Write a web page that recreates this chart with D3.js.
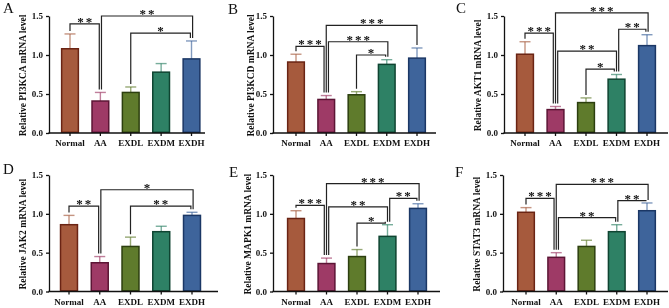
<!DOCTYPE html>
<html><head><meta charset="UTF-8"><style>
body { margin: 0; background: #fff; }
svg { display: block; will-change: transform; }
.axis .domain, .axis line { stroke: #111; stroke-width: 1.3; }
.axis text { font-family: "Liberation Serif", serif; font-weight: bold; font-size: 9px; fill: #111; }
</style>
</head>
<body>
<svg width="669" height="308"></svg>
<script src="https://cdn.jsdelivr.net/npm/d3@7"></script>
<script>

var groups = ["Normal", "AA", "EXDL", "EXDM", "EXDH"];
var genes = ["PI3KCA", "PI3KCD", "AKT1", "JAK2", "MAPK1", "STAT3"];
var letters = ["A", "B", "C", "D", "E", "F"];
var yTicks = [0, 0.5, 1.0, 1.5];

var fillColors = ["#a65a3d", "#9e3a66", "#5f7b2c", "#2e8165", "#3e649b"];
var lineColors = ["#6a2414", "#5c1535", "#2c3f0f", "#0f4431", "#1b3765"];

// mean and upper error (mean + sd) per gene
var meanPI3KCA = [1.08, 0.41, 0.52, 0.78, 0.95];
var errPI3KCA  = [1.27, 0.52, 0.59, 0.89, 1.18];
var meanPI3KCD = [0.91, 0.43, 0.49, 0.88, 0.96];
var errPI3KCD  = [1.01, 0.48, 0.53, 0.94, 1.09];
var meanAKT1   = [1.01, 0.30, 0.39, 0.69, 1.12];
var errAKT1    = [1.17, 0.34, 0.45, 0.75, 1.26];
var meanJAK2   = [0.86, 0.37, 0.58, 0.77, 0.98];
var errJAK2    = [0.98, 0.45, 0.70, 0.84, 1.02];
var meanMAPK1  = [0.94, 0.36, 0.45, 0.71, 1.07];
var errMAPK1   = [1.04, 0.43, 0.54, 0.86, 1.13];
var meanSTAT3  = [1.02, 0.44, 0.58, 0.77, 1.04];
var errSTAT3   = [1.08, 0.50, 0.66, 0.86, 1.14];

// significance brackets: [from, to, level, label]
var sigPI3KCA = [[0, 1, 1.40, "**"], [1, 4, 1.50, "**"], [2, 4, 1.28, "*"]];
var sigPI3KCD = [[0, 1, 1.11, "***"], [1, 4, 1.38, "***"], [1, 3, 1.17, "***"], [2, 3, 1.00, "*"]];
var sigAKT1   = [[0, 1, 1.28, "***"], [1, 4, 1.54, "***"], [3, 4, 1.33, "**"], [1, 3, 1.05, "**"], [2, 3, 0.82, "*"]];
var sigJAK2   = [[0, 1, 1.10, "**"], [1, 4, 1.31, "*"], [2, 4, 1.10, "**"]];
var sigMAPK1  = [[0, 1, 1.11, "***"], [1, 4, 1.39, "***"], [3, 4, 1.20, "**"], [1, 3, 1.09, "**"], [2, 3, 0.88, "*"]];
var sigSTAT3  = [[0, 1, 1.20, "***"], [1, 4, 1.38, "***"], [3, 4, 1.17, "**"], [1, 3, 0.95, "**"]];

var means = [meanPI3KCA, meanPI3KCD, meanAKT1, meanJAK2, meanMAPK1, meanSTAT3];
var errs  = [errPI3KCA, errPI3KCD, errAKT1, errJAK2, errMAPK1, errSTAT3];
var sigs  = [sigPI3KCA, sigPI3KCD, sigAKT1, sigJAK2, sigMAPK1, sigSTAT3];

// panel placement
var layout = [
  {x0: 49,  x1: 205, c0: 70,  c4: 191.5, yT: 16,  yB: 133,   lx: 3,   ly: 13,  tx: 23},
  {x0: 273, x1: 436, c0: 296, c4: 417,   yT: 16,  yB: 133,   lx: 228, ly: 14,  tx: 251},
  {x0: 504, x1: 668, c0: 525, c4: 647,   yT: 16,  yB: 133,   lx: 456, ly: 13,  tx: 478},
  {x0: 49,  x1: 218, c0: 69,  c4: 192,   yT: 175, yB: 291.5, lx: 3,   ly: 174, tx: 23},
  {x0: 273, x1: 440, c0: 296, c4: 418,   yT: 175, yB: 291.5, lx: 229, ly: 177, tx: 248},
  {x0: 503, x1: 668, c0: 526, c4: 647,   yT: 175, yB: 291.5, lx: 455, ly: 177, tx: 477}
];

var svg = d3.select("svg");

layout.forEach(function(L, p) {
  var g = svg.append("g");
  var step = (L.c4 - L.c0) / 4;
  var x = d3.scaleBand().domain(groups)
      .range([L.c0 - step / 2, L.c4 + step / 2])
      .paddingInner(0.4).paddingOuter(0.2);
  var y = d3.scaleLinear().domain([0, 1.5]).range([L.yB, L.yT]);
  var cx = function(i) { return x(groups[i]) + x.bandwidth() / 2; };
  var m = means[p], e = errs[p];

  // error bars (upper only)
  groups.forEach(function(name, i) {
    var eg = g.append("g").attr("stroke", fillColors[i]).attr("stroke-opacity", 0.65)
        .attr("stroke-width", 1.4);
    eg.append("line").attr("x1", cx(i)).attr("x2", cx(i)).attr("y1", y(m[i])).attr("y2", y(e[i]));
    eg.append("line").attr("x1", cx(i) - 5.5).attr("x2", cx(i) + 5.5).attr("y1", y(e[i])).attr("y2", y(e[i]));
  });

  g.selectAll("rect.bar").data(groups).enter().append("rect")
      .attr("class", "bar")
      .attr("x", function(d) { return x(d) + 0.75; })
      .attr("width", x.bandwidth() - 1.5)
      .attr("y", function(d, i) { return y(m[i]); })
      .attr("height", function(d, i) { return y(0) - y(m[i]) - 0.7; })
      .attr("fill", function(d, i) { return fillColors[i]; })
      .attr("stroke", function(d, i) { return lineColors[i]; })
      .attr("stroke-width", 1.5);

  // axes
  var ya = g.append("g").attr("class", "axis")
      .attr("transform", "translate(" + L.x0 + ",0)")
      .call(d3.axisLeft(y).tickValues(yTicks).tickFormat(d3.format(".1f")).tickSize(3).tickSizeOuter(0).tickPadding(3));
  ya.attr("font-family", null).attr("font-size", null);

  g.append("line").attr("x1", L.x0 - 0.6).attr("x2", L.x1).attr("y1", L.yB).attr("y2", L.yB)
      .attr("stroke", "#111").attr("stroke-width", 1.3);
  var xa = g.append("g").attr("class", "axis")
      .attr("transform", "translate(0," + L.yB + ")")
      .call(d3.axisBottom(x).tickSize(3).tickSizeOuter(0).tickPadding(4));
  xa.select(".domain").remove();
  xa.attr("font-family", null).attr("font-size", null);

  // y title
  g.append("text")
      .attr("transform", "translate(" + L.tx + "," + ((L.yT + L.yB) / 2 + 1) + ") rotate(-90)")
      .attr("text-anchor", "middle")
      .attr("dy", "0.35em")
      .attr("font-family", "Liberation Serif, serif")
      .attr("font-weight", "bold")
      .attr("font-size", 9.5)
      .attr("fill", "#111")
      .text("Relative " + genes[p] + " mRNA level");

  // panel letter
  g.append("text").attr("x", L.lx).attr("y", L.ly)
      .attr("font-family", "Liberation Serif, serif")
      .attr("font-size", 15)
      .attr("fill", "#111")
      .text(letters[p]);

  // bracket legs: spread legs sharing one bar
  var legs = {};
  sigs[p].forEach(function(s, k) {
    (legs[s[0]] = legs[s[0]] || []).push({k: k, other: s[1]});
    (legs[s[1]] = legs[s[1]] || []).push({k: k, other: s[0]});
  });
  var legX = {};
  Object.keys(legs).forEach(function(b) {
    var list = legs[b];
    b = +b;
    list.sort(function(u, v) {
      var su = u.other < b ? 0 : 1, sv = v.other < b ? 0 : 1;
      if (su !== sv) return su - sv;
      return v.other - u.other;
    });
    list.forEach(function(l, j) {
      legX[l.k + "_" + b] = cx(b) + (j - (list.length - 1) / 2) * 2.2;
    });
  });

  sigs[p].forEach(function(s, k) {
    var a = s[0], b = s[1], ly = y(s[2]);
    var xa1 = legX[k + "_" + a], xb1 = legX[k + "_" + b];
    g.append("path")
        .attr("d", "M" + xa1 + "," + (y(e[a]) - 3) + "V" + ly + "H" + xb1 + "V" + (y(e[b]) - 3))
        .attr("fill", "none").attr("stroke", "#222").attr("stroke-width", 1.2);
    g.append("text")
        .attr("x", (xa1 + xb1) / 2 + 1).attr("y", ly + 2)
        .attr("text-anchor", "middle")
        .attr("font-family", "Liberation Serif, serif")
        .attr("font-weight", "bold")
        .attr("font-size", 13)
        .attr("letter-spacing", 2)
        .attr("fill", "#111")
        .text(s[3]);
  });
});

</script>
</body></html>
